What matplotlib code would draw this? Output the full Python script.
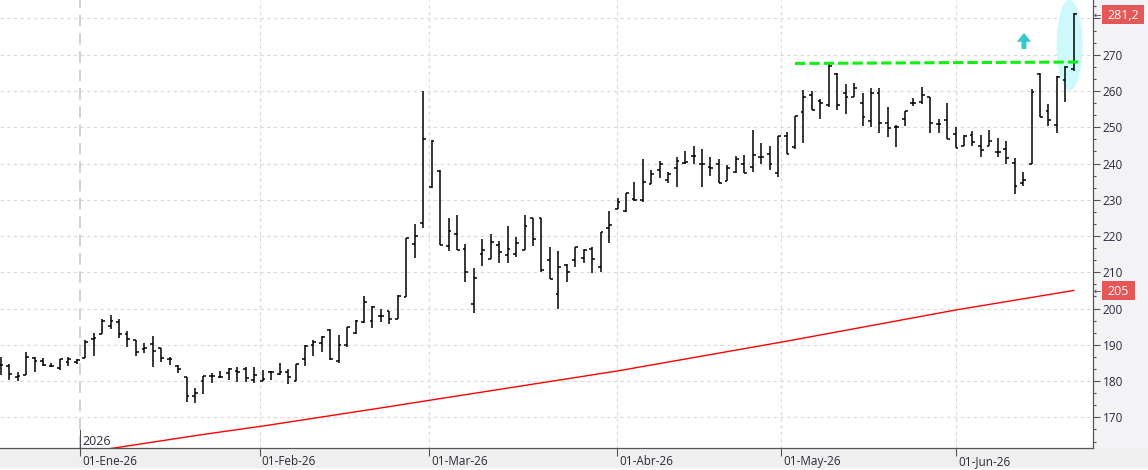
import matplotlib
matplotlib.use("Agg")
import matplotlib.pyplot as plt
from matplotlib.collections import LineCollection
from matplotlib.patches import Ellipse, FancyArrow, Rectangle
import matplotlib.ticker as mticker
import matplotlib.transforms as mtransforms

plt.rcParams['font.family'] = ['Open Sans', 'DejaVu Sans']

# ---------------- data (daily OHLC, one entry per trading session) ----------------
opens = [184.5, 184.2, 181.0, 181.8, 186.3, 185.6, 184.3, 183.5, 185.2, 185.4,
         186.3, 191.5, 193.0, 195.2, 196.4, 192.9, 191.3, 188.9, 190.3, 189.1,
         186.0, 184.2, 181.1, 176.0, 180.1, 181.5, 181.1, 182.2, 182.9, 183.3,
         180.3, 180.1, 182.5, 182.0, 182.6, 180.0, 186.0, 190.0, 190.4, 194.1,
         185.6, 190.0, 193.2, 196.4, 196.7, 198.0, 199.2, 197.0, 203.3, 217.7,
         223.5, 233.6, 238.0, 217.3, 220.7, 216.4, 201.4, 215.0, 213.6, 217.5,
         214.8, 215.0, 216.1, 225.1, 225.1, 213.4, 204.0, 212.0, 213.4, 213.9,
         216.4, 211.6, 222.1, 227.4, 227.0, 230.1, 230.0, 234.3, 238.2, 235.5,
         238.9, 240.2, 242.1, 240.0, 239.1, 239.9, 235.2, 237.8, 240.0, 239.1,
         241.9, 242.5, 237.5, 247.6, 244.6, 254.3, 258.9, 257.3, 256.1, 264.7,
         259.4, 258.4, 256.6, 251.8, 259.5, 251.1, 250.0, 252.2, 256.6, 257.0,
         258.3, 250.9, 252.0, 248.1, 244.9, 247.9, 244.9, 244.8, 243.1, 243.9,
         240.1, 234.7, 239.9, 264.7, 254.5, 250.6, 262.9, 266.0]
highs = [186.6, 184.7, 182.6, 188.0, 186.6, 186.3, 184.9, 186.0, 186.6, 186.1,
         191.2, 193.2, 197.0, 198.2, 197.0, 193.9, 191.3, 190.4, 192.5, 189.1,
         186.6, 184.5, 181.1, 178.0, 181.4, 182.2, 182.9, 183.6, 184.0, 184.0,
         183.8, 183.1, 182.8, 185.1, 183.3, 184.6, 190.0, 191.2, 192.5, 194.4,
         192.7, 195.0, 196.9, 203.5, 200.7, 199.8, 199.2, 203.8, 219.6, 223.3,
         260.0, 246.5, 238.2, 225.1, 225.8, 217.8, 211.3, 219.2, 220.7, 218.6,
         222.8, 219.8, 225.8, 225.1, 225.1, 216.9, 215.9, 212.2, 216.9, 216.4,
         217.1, 221.0, 227.0, 230.4, 232.0, 235.0, 241.2, 238.2, 240.7, 237.8,
         241.7, 243.4, 244.8, 243.9, 241.7, 241.2, 239.6, 242.1, 242.3, 249.2,
         245.6, 244.8, 247.6, 248.8, 253.1, 260.3, 260.0, 257.7, 267.9, 264.9,
         261.8, 262.1, 259.5, 260.7, 260.7, 255.5, 250.6, 254.5, 258.0, 261.0,
         258.4, 252.3, 256.8, 250.2, 247.9, 249.0, 247.9, 249.3, 247.1, 246.3,
         241.6, 237.6, 260.6, 264.9, 256.4, 264.1, 266.9, 281.4]
lows = [181.7, 180.2, 179.9, 181.7, 182.6, 184.3, 183.8, 183.1, 184.3, 184.6,
        186.3, 187.0, 192.9, 194.3, 191.8, 189.3, 187.0, 187.7, 184.0, 185.4,
        184.5, 182.2, 174.2, 173.9, 176.4, 179.6, 180.8, 180.3, 179.7, 179.7,
        179.4, 179.9, 180.3, 181.7, 179.1, 180.0, 184.3, 186.8, 187.9, 185.8,
        185.1, 189.5, 192.9, 196.1, 194.6, 196.4, 195.8, 197.0, 203.3, 214.0,
        222.3, 233.2, 217.5, 215.9, 216.1, 207.2, 198.7, 211.8, 213.6, 212.7,
        212.5, 214.3, 216.1, 217.3, 210.0, 208.1, 199.8, 207.2, 211.4, 212.5,
        209.7, 210.0, 218.0, 227.4, 226.5, 229.7, 229.5, 234.3, 235.9, 234.5,
        233.4, 240.0, 239.8, 233.6, 236.7, 234.5, 235.2, 237.5, 237.3, 237.8,
        239.8, 238.2, 236.2, 242.6, 243.9, 245.8, 254.9, 252.2, 255.5, 254.9,
        253.7, 258.4, 250.4, 250.0, 248.3, 247.2, 244.6, 250.3, 255.9, 256.3,
        248.5, 248.3, 246.9, 244.2, 244.7, 244.9, 241.7, 244.7, 241.9, 239.8,
        231.5, 233.8, 239.9, 252.7, 250.4, 248.3, 257.1, 265.6]
closes = [184.4, 182.0, 181.4, 186.6, 185.6, 184.4, 184.3, 186.0, 186.1, 185.8,
          190.9, 191.8, 196.5, 196.7, 193.0, 191.5, 188.0, 189.2, 188.3, 186.3,
          186.0, 183.4, 175.9, 176.7, 181.4, 181.3, 181.1, 183.4, 182.5, 180.8,
          181.7, 180.5, 182.6, 182.6, 181.1, 184.6, 189.8, 190.9, 192.1, 186.0,
          190.0, 194.8, 196.7, 201.9, 200.4, 198.0, 197.0, 203.5, 219.4, 220.0,
          246.9, 246.3, 217.6, 221.5, 216.1, 210.0, 208.3, 216.1, 218.3, 215.7,
          216.4, 218.0, 222.8, 219.2, 210.6, 208.1, 211.6, 210.0, 216.9, 216.1,
          213.7, 221.0, 223.0, 229.5, 231.8, 229.9, 235.0, 237.1, 239.8, 237.1,
          240.8, 240.5, 242.1, 239.9, 238.9, 234.5, 238.9, 241.2, 237.3, 242.3,
          241.7, 239.8, 247.6, 242.6, 253.1, 258.3, 254.9, 256.6, 267.0, 256.1,
          258.4, 260.7, 252.7, 259.4, 251.3, 249.7, 250.2, 254.5, 256.8, 258.9,
          251.3, 250.9, 246.9, 244.2, 247.6, 245.9, 243.6, 246.2, 243.1, 241.4,
          233.8, 235.5, 259.6, 252.7, 252.0, 263.8, 266.7, 281.2]

# moving average (red), read at a few sessions
ma_session = [14, 25, 32, 46, 52, 74, 94, 114, 128]
ma_values = [161.4, 165.3, 167.6, 172.6, 174.8, 182.8, 191.0, 199.6, 205.0]

# month separators (session position) and labels
month_pos = [10.44, 31.69, 51.72, 73.97, 93.38, 114.09]
month_labels = ['01-Ene-26', '01-Feb-26', '01-Mar-26', '01-Abr-26', '01-May-26', '01-Jun-26']
year_label = '2026'

# resistance line (green dashed)
res_session = [95.0, 128.7]
res_values = [267.6, 268.0]

# highlight ellipse and arrow
hl_center = (127.5, 272.7)
arrow_session = 122.1
arrow_from, arrow_to = 271.6, 276.0

y_major = [170, 180, 190, 200, 210, 220, 230, 240, 250, 260, 270, 280]

# ---------------- figure ----------------
W, H = 1148, 470
fig = plt.figure(figsize=(W / 100, H / 100), dpi=100)
fig.patch.set_facecolor('#f3f3f5')
fig.patches.append(Rectangle((0, 0), 1, 22 / H, transform=fig.transFigure,
                             facecolor='#efefef', edgecolor='none', zorder=-2))
fig.patches.append(Rectangle((0, 0), 1, 2 / H, transform=fig.transFigure,
                             facecolor='#fafafa', edgecolor='none', zorder=-2))

ax = fig.add_axes([0, 22 / H, 1093 / W, 448 / H])
ax.set_facecolor('white')
n = len(opens)
ax.set_xlim(0.917, 130.27)
ax.set_ylim(161.55, 285.1)

for s in ['top', 'left']:
    ax.spines[s].set_visible(False)
for s in ['right', 'bottom']:
    ax.spines[s].set_color('#555555')
    ax.spines[s].set_linewidth(0.9)

# y axis on the right
ax.yaxis.tick_right()
ax.set_yticks(y_major)
ax.set_yticklabels([str(v) if v != 280 else '' for v in y_major])
ax.yaxis.set_minor_locator(mticker.MultipleLocator(10 / 3))
ax.tick_params(axis='y', which='major', length=5, width=0.8, color='#555555',
               labelsize=8.5, labelcolor='#2a2a3c', pad=2)
ax.tick_params(axis='y', which='minor', length=2.3, width=0.8, color='#555555')

# x ticks at month starts
ax.set_xticks(month_pos)
ax.set_xticklabels([''] * len(month_pos))
ax.tick_params(axis='x', which='major', length=6, width=0.8, color='#555555')
ax.xaxis.set_minor_locator(mticker.NullLocator())

ax.set_axisbelow(True)
ax.yaxis.grid(True, which='major', linestyle=(0, (3, 3)), color='#d8d8d8', linewidth=0.8)

for i, p in enumerate(month_pos):
    if i == 0:
        ax.axvline(p, color='#c8c8c8', linewidth=1.2, linestyle=(0, (7, 4)), zorder=0.5)
    else:
        ax.axvline(p, color='#d8d8d8', linewidth=0.8, linestyle=(0, (3, 3)), zorder=0.5)
    ax.annotate(month_labels[i], xy=(p, 0), xycoords=('data', 'axes fraction'),
                xytext=(1.2, -12.0), textcoords='offset points', ha='left', va='baseline',
                fontsize=8.5, color='#2a2a3c', annotation_clip=False)

blend = mtransforms.blended_transform_factory(ax.transData, ax.transAxes)
ax.plot([month_pos[0], month_pos[0]], [0, 18 / 448], transform=blend,
        color='#555555', linewidth=0.8, clip_on=False, zorder=5)
ax.annotate(year_label, xy=(month_pos[0], 0), xycoords=('data', 'axes fraction'),
            xytext=(1.2, 2.5), textcoords='offset points', ha='left', va='baseline',
            fontsize=9, color='#2a2a3c')

# highlight ellipse (behind bars)
ax.add_patch(Ellipse(hl_center, width=3.08, height=25.1, facecolor='#cdf9fc',
                     edgecolor='none', zorder=1))

# moving average
ax.plot(ma_session, ma_values, color='#ff0000', linewidth=1.0, zorder=2)

# OHLC bars
tw = 0.33
segs = []
for i in range(n):
    xi = i + 1
    segs.append([(xi, lows[i]), (xi, highs[i])])
    segs.append([(xi - tw, opens[i]), (xi, opens[i])])
    segs.append([(xi, closes[i]), (xi + tw, closes[i])])
ax.add_collection(LineCollection(segs, colors='black', linewidths=1.1, zorder=3))

# resistance line
ax.plot(res_session, res_values, color='#11ee11', linewidth=2.2,
        dashes=(3.4, 1.3), zorder=4, solid_capstyle='butt', dash_capstyle='butt')

# breakout arrow
ax.add_patch(FancyArrow(arrow_session, arrow_from, 0, arrow_to - arrow_from,
                        width=0.6, head_width=1.7, head_length=2.4,
                        length_includes_head=True, facecolor='#36c9cc',
                        edgecolor='none', zorder=4))

# price labels on the right axis
fblend = mtransforms.blended_transform_factory(fig.transFigure, ax.transData)
last_price = closes[-1]
last_ma = ma_values[-1]
for val, txt, wpx, hpx in [(last_price, f"{last_price:.1f}".replace('.', ','), 42.5, 19),
                           (last_ma, f"{last_ma:.0f}", 33.5, 18.6)]:
    hdata = hpx / 3.626
    fig.patches.append(Rectangle((1101.7 / W, val - hdata / 2), wpx / W, hdata,
                                 transform=fblend, facecolor='#e55656',
                                 edgecolor='none', zorder=5))
    fig.text((1101.7 + wpx / 2) / W, val, txt, transform=fblend, ha='center',
             va='center_baseline', fontsize=9, color='white', zorder=6)
    fig.text(1097 / W, val, '\u2190', transform=fblend, ha='center',
             va='center_baseline', fontsize=6.5, color='#444444',
             family='DejaVu Sans', zorder=6)

fig.savefig('out.png', dpi=100, facecolor=fig.get_facecolor())
